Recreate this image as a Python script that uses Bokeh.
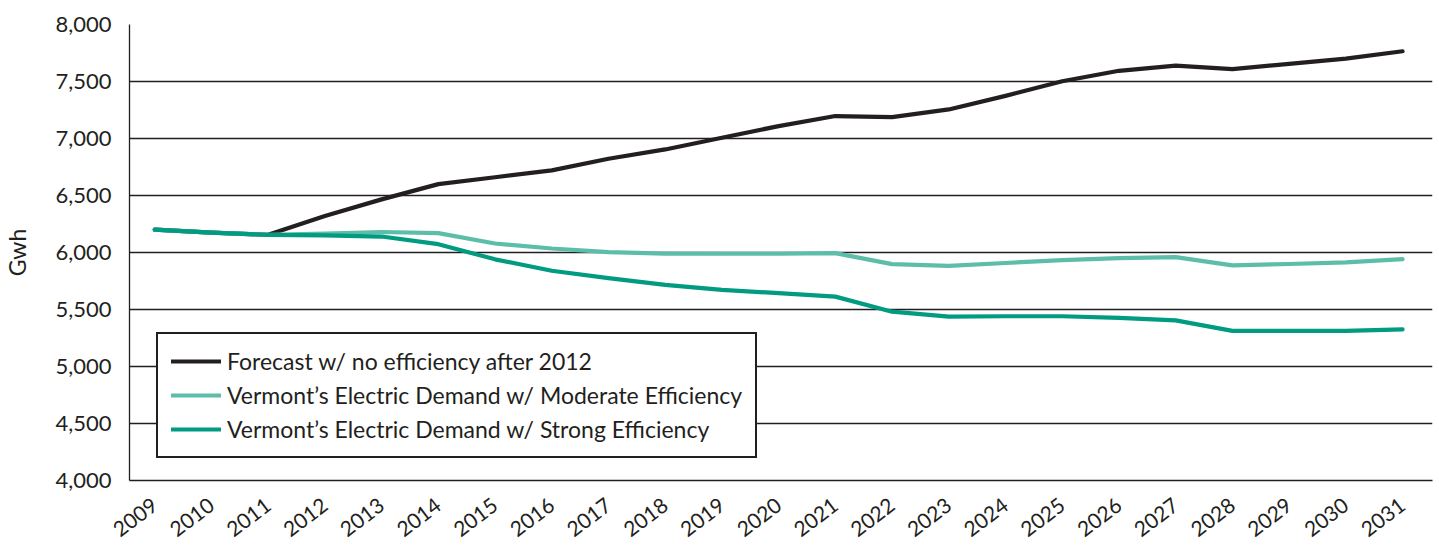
import math

from bokeh.embed import file_html
from bokeh.models import ColumnDataSource, FixedTicker, Legend, LegendItem, NumeralTickFormatter, Range1d
from bokeh.plotting import figure
from bokeh.resources import INLINE

# Annual electricity demand for Vermont, GWh
years = list(range(2009, 2032))
forecast_no_efficiency = [6200, 6175, 6155, 6320, 6466, 6600, 6660, 6720, 6822, 6904, 7007, 7109,
                          7197, 7188, 7255, 7374, 7502, 7594, 7640, 7609, 7655, 7701, 7765]
moderate_efficiency = [6200, 6175, 6155, 6165, 6180, 6170, 6079, 6035, 6003, 5991, 5989, 5989,
                       5995, 5898, 5882, 5908, 5933, 5951, 5960, 5887, 5899, 5914, 5942]
strong_efficiency = [6200, 6175, 6155, 6150, 6140, 6073, 5940, 5840, 5775, 5716, 5672, 5643,
                     5613, 5481, 5437, 5441, 5441, 5426, 5405, 5313, 5313, 5313, 5325]

series_labels = [
    "Forecast w/ no efficiency after 2012",
    "Vermont\u2019s Electric Demand w/ Moderate Efficiency",
    "Vermont\u2019s Electric Demand w/ Strong Efficiency",
]
y_ticks = [4000, 4500, 5000, 5500, 6000, 6500, 7000, 7500, 8000]

INK = "#231f20"
FONT = "Lato"

source = ColumnDataSource(data=dict(
    year=years,
    forecast=forecast_no_efficiency,
    moderate=moderate_efficiency,
    strong=strong_efficiency,
))

p = figure(
    width=1439, height=546,
    output_backend="svg", toolbar_location=None,
    x_range=Range1d(2008.555, 2031.528),
    y_range=Range1d(4000, 8000),
    min_border_left=127, min_border_right=7,
    min_border_top=24, min_border_bottom=66,
)
p.outline_line_color = None
p.background_fill_color = "white"
p.border_fill_color = "white"

styles = [
    ("forecast", INK),
    ("moderate", "#5cbea9"),
    ("strong", "#009b80"),
]
renderers = []
for col, color in styles:
    r = p.line("year", col, source=source, line_color=color, line_width=4.2,
               line_cap="round", line_join="round")
    renderers.append(r)

# x axis: one tick per year, slanted labels, no tick marks
p.xaxis.ticker = FixedTicker(ticks=years)
p.xaxis.major_label_overrides = {y: str(y) for y in years}
p.xaxis.major_label_orientation = math.radians(37)
p.xaxis.major_tick_line_color = None
p.xaxis.minor_tick_line_color = None
p.xaxis.axis_line_color = INK
p.xaxis.axis_line_width = 1.3
p.xaxis.major_label_text_font = FONT
p.xaxis.major_label_text_font_size = "21px"
p.xaxis.major_label_text_color = INK
p.xaxis.major_label_standoff = 16
p.xgrid.grid_line_color = None

# y axis
p.yaxis.ticker = FixedTicker(ticks=y_ticks)
p.yaxis.formatter = NumeralTickFormatter(format="0,0")
p.yaxis.major_tick_line_color = None
p.yaxis.minor_tick_line_color = None
p.yaxis.axis_line_color = INK
p.yaxis.axis_line_width = 1.3
p.yaxis.major_label_text_font = FONT
p.yaxis.major_label_text_font_size = "22px"
p.yaxis.major_label_text_color = INK
p.yaxis.major_label_standoff = 12
p.yaxis.axis_label = "Gwh"
p.yaxis.axis_label_text_font = FONT
p.yaxis.axis_label_text_font_size = "23px"
p.yaxis.axis_label_text_font_style = "normal"
p.yaxis.axis_label_text_color = INK
p.yaxis.axis_label_standoff = 21
p.ygrid.grid_line_color = INK
p.ygrid.grid_line_width = 1.3

legend = Legend(
    items=[LegendItem(label=lbl, renderers=[r]) for lbl, r in zip(series_labels, renderers)],
    location=(27, 22),
    orientation="vertical",
    border_line_color=INK,
    border_line_alpha=1.0,
    border_line_width=2.6,
    background_fill_color="white",
    background_fill_alpha=1.0,
    label_text_font=FONT,
    label_text_font_size="23px",
    label_text_color=INK,
    glyph_width=50,
    glyph_height=24,
    label_height=24,
    label_standoff=6,
    spacing=6,
    padding=13,
    margin=0,
)
p.add_layout(legend, "center")

open("out.html", "w").write(file_html(p, INLINE))
